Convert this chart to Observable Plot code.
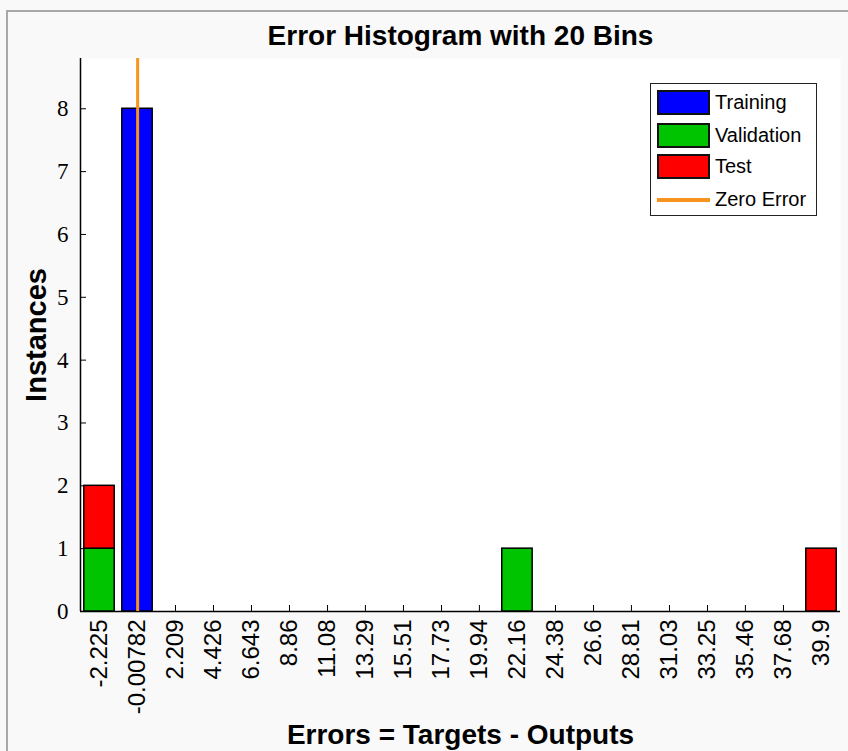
<!DOCTYPE html>
<html>
<head>
<meta charset="utf-8">
<script src="https://cdn.jsdelivr.net/npm/d3@7"></script>
<script src="https://cdn.jsdelivr.net/npm/@observablehq/plot@0.6"></script>
<style>
  html, body { margin: 0; padding: 0; background: #f9f9f9; overflow: hidden; }
  #wrap { position: relative; width: 848px; height: 751px; overflow: hidden; }
  #bt { position: absolute; left: 6px; top: 10px; width: 842px; height: 2px; background: #a9a9a9; }
  #bl { position: absolute; left: 6px; top: 10px; width: 2px; height: 741px; background: #a9a9a9; }
  #chart { position: absolute; left: 0; top: 0; width: 848px; height: 751px; }
  #chart svg { max-width: none; }
  #legend { position: absolute; left: 650px; top: 83px; width: 167px; height: 133px;
            background: #fff; border: 1.5px solid #222; box-sizing: border-box;
            font-family: "Liberation Sans", Arial, sans-serif; font-size: 20px; color: #000; }
  .item { position: absolute; left: 6px; height: 25px; display: flex; align-items: center; }
  .sw { width: 53px; height: 25px; border: 2px solid #111; box-sizing: border-box; margin-right: 5px; }
  .ln { width: 53px; height: 4px; margin-right: 5px; }
</style>
</head>
<body>
<div id="wrap">
  <div id="bt"></div>
  <div id="bl"></div>
  <div id="chart"></div>
  <div id="legend"></div>
</div>
<script>
// ---- data ----
const binLabels = ["-2.225", "-0.00782", "2.209", "4.426", "6.643", "8.86", "11.08", "13.29", "15.51", "17.73",
                   "19.94", "22.16", "24.38", "26.6", "28.81", "31.03", "33.25", "35.46", "37.68", "39.9"];
const training   = [0, 8, 0, 0, 0, 0, 0, 0, 0, 0, 0, 0, 0, 0, 0, 0, 0, 0, 0, 0];
const validation = [1, 0, 0, 0, 0, 0, 0, 0, 0, 0, 0, 1, 0, 0, 0, 0, 0, 0, 0, 0];
const test       = [1, 0, 0, 0, 0, 0, 0, 0, 0, 0, 0, 0, 0, 0, 0, 0, 0, 0, 0, 1];
const seriesNames = ["Training", "Validation", "Test"];
const seriesColors = ["#0000ff", "#00c400", "#ff0000"];
const zeroErrorLabel = "Zero Error";
const zeroErrorColor = "#f7941d";
const zeroError = [0];
const yTicks = [0, 1, 2, 3, 4, 5, 6, 7, 8];
const yMax = 8.8;

// ---- derived ----
const centers = binLabels.map(Number);
const binWidth = (centers[centers.length - 1] - centers[0]) / (centers.length - 1);
const xDomain = [centers[0] - binWidth / 2, centers[centers.length - 1] + binWidth / 2];
const seriesValues = [training, validation, test];
const rows = [];
binLabels.forEach((lab, i) => {
  seriesValues.forEach((arr, s) => {
    if (arr[i] > 0) rows.push({center: centers[i], label: lab, series: seriesNames[s], count: arr[i]});
  });
});

const sans = "'Liberation Sans', Arial, Helvetica, sans-serif";

const chart = Plot.plot({
  width: 848,
  height: 751,
  marginLeft: 80,
  marginRight: 8,
  marginTop: 58,
  marginBottom: 140,
  style: {background: "transparent", fontFamily: sans, color: "#000", overflow: "visible"},
  x: {type: "linear", domain: xDomain},
  y: {domain: [0, yMax]},
  color: {domain: seriesNames, range: seriesColors},
  marks: [
    Plot.frame({fill: "white", stroke: null}),
    Plot.axisX({
      ticks: centers,
      tickFormat: d => binLabels[centers.indexOf(d)],
      tickSize: -6,
      tickPadding: 14,
      tickRotate: -90,
      fontSize: 24,
      stroke: "#000",
      label: null
    }),
    Plot.axisY({
      ticks: yTicks,
      tickFormat: d => String(d),
      tickSize: -6,
      tickPadding: 18,
      fontSize: 23,
      fontFamily: "'Liberation Serif', 'Times New Roman', serif",
      stroke: "#000",
      label: null
    }),
    Plot.ruleY([0], {stroke: "#000", strokeWidth: 1.5}),
    Plot.ruleX([xDomain[0]], {stroke: "#000", strokeWidth: 1.5}),
    Plot.rectY(rows, {
      x1: d => d.center - 0.4 * binWidth,
      x2: d => d.center + 0.4 * binWidth,
      y: "count",
      fill: "series",
      stroke: "#000",
      strokeWidth: 1.5
    }),
    Plot.ruleX(zeroError, {stroke: zeroErrorColor, strokeWidth: 3}),
    Plot.text(["Error Histogram with 20 Bins"], {frameAnchor: "top", lineAnchor: "middle", textAnchor: "middle", dy: -22, fontSize: 28, fontWeight: "bold", fill: "#000"}),
    Plot.text(["Instances"], {frameAnchor: "left", lineAnchor: "middle", textAnchor: "middle", dx: -44, rotate: -90, fontSize: 29, fontWeight: "bold", fill: "#000"}),
    Plot.text(["Errors = Targets - Outputs"], {frameAnchor: "bottom", lineAnchor: "middle", textAnchor: "middle", dy: 124, fontSize: 28, fontWeight: "bold", fill: "#000"})
  ]
});
document.getElementById("chart").appendChild(chart);

// ---- legend ----
const legend = document.getElementById("legend");
const tops = [6, 39, 70];
seriesNames.forEach((name, i) => {
  const it = document.createElement("div");
  it.className = "item";
  it.style.top = tops[i] + "px";
  it.innerHTML = `<div class="sw" style="background:${seriesColors[i]}"></div><span>${name}</span>`;
  legend.appendChild(it);
});
const zl = document.createElement("div");
zl.className = "item";
zl.style.top = "103px";
zl.innerHTML = `<div class="ln" style="background:${zeroErrorColor}"></div><span>${zeroErrorLabel}</span>`;
legend.appendChild(zl);
</script>
</body>
</html>
